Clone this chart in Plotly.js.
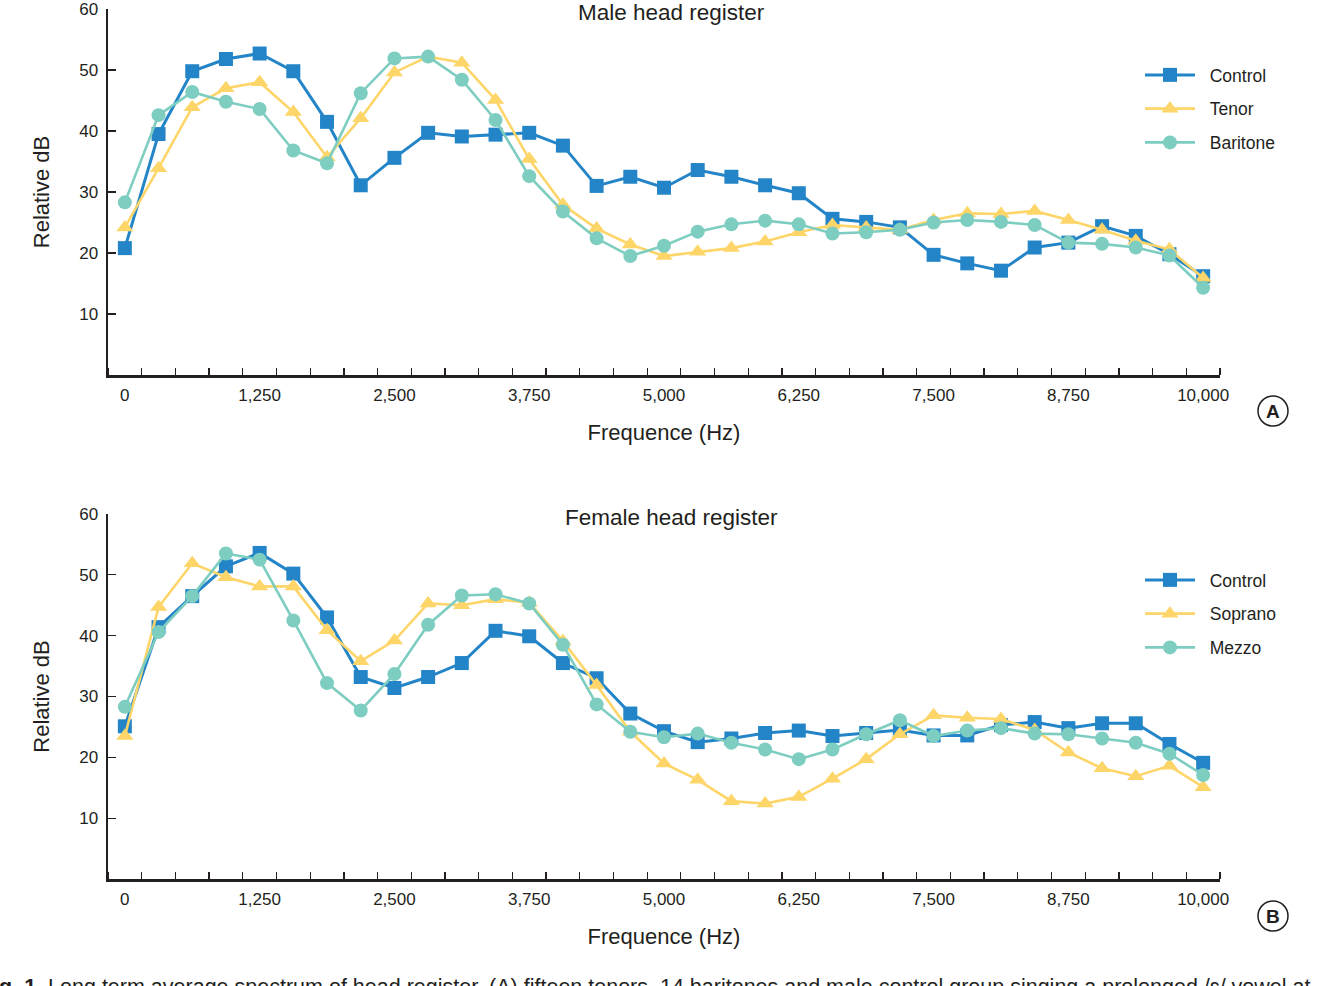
<!DOCTYPE html>
<html>
<head>
<meta charset="utf-8">
<script src="https://cdn.plot.ly/plotly-3.0.1.min.js"></script>
<style>
  html, body { margin: 0; padding: 0; background: #ffffff; }
  #chart { width: 1324px; height: 986px; }
</style>
</head>
<body>
<div id="chart"></div>
<script>
// Frequency bins (Hz) of the long term average spectrum
const freqs = [0, 312.5, 625, 937.5, 1250, 1562.5, 1875, 2187.5, 2500, 2812.5, 3125,
  3437.5, 3750, 4062.5, 4375, 4687.5, 5000, 5312.5, 5625, 5937.5, 6250, 6562.5,
  6875, 7187.5, 7500, 7812.5, 8125, 8437.5, 8750, 9062.5, 9375, 9687.5, 10000];

// Male head register (relative dB)
const maleControl = [20.8, 39.5, 49.8, 51.8, 52.7, 49.8, 41.5, 31.1, 35.6, 39.7, 39.1,
  39.4, 39.7, 37.6, 31.0, 32.5, 30.7, 33.6, 32.5, 31.1, 29.8, 25.6,
  25.1, 24.2, 19.7, 18.3, 17.1, 20.9, 21.7, 24.4, 22.8, 19.8, 16.2];
const tenor = [24.2, 33.9, 43.9, 47.0, 48.0, 43.1, 35.7, 42.1, 49.6, 52.2, 51.2,
  45.1, 35.4, 27.9, 24.0, 21.4, 19.5, 20.2, 20.8, 21.9, 23.4, 24.6,
  24.2, 23.8, 25.4, 26.5, 26.4, 26.9, 25.4, 23.8, 22.0, 20.6, 15.9];
const baritone = [28.3, 42.6, 46.4, 44.8, 43.6, 36.8, 34.7, 46.2, 51.9, 52.2, 48.4,
  41.8, 32.6, 26.8, 22.4, 19.5, 21.2, 23.5, 24.7, 25.3, 24.7, 23.2,
  23.4, 23.8, 25.0, 25.4, 25.1, 24.6, 21.7, 21.5, 20.9, 19.6, 14.3];

// Female head register (relative dB)
const femaleControl = [25.1, 41.4, 46.5, 51.4, 53.6, 50.2, 43.0, 33.2, 31.4, 33.2, 35.5,
  40.8, 39.9, 35.5, 33.0, 27.2, 24.3, 22.5, 23.1, 24.0, 24.4, 23.5,
  24.0, 24.5, 23.6, 23.6, 25.3, 25.8, 24.8, 25.6, 25.6, 22.2, 19.1];
const soprano = [23.5, 44.7, 51.9, 49.6, 48.1, 48.1, 40.9, 35.8, 39.2, 45.3, 45.0,
  46.0, 45.4, 39.1, 31.9, 24.2, 19.0, 16.3, 12.8, 12.4, 13.5, 16.5,
  19.7, 23.8, 26.9, 26.5, 26.3, 24.5, 20.8, 18.2, 16.9, 18.6, 15.1];
const mezzo = [28.3, 40.6, 46.5, 53.5, 52.5, 42.5, 32.2, 27.7, 33.7, 41.8, 46.6,
  46.8, 45.3, 38.5, 28.7, 24.2, 23.3, 23.9, 22.4, 21.3, 19.7, 21.3,
  23.8, 26.1, 23.5, 24.4, 24.8, 23.9, 23.8, 23.1, 22.4, 20.6, 17.1];

// Axis labels
const xTickVals = [0, 1250, 2500, 3750, 5000, 6250, 7500, 8750, 10000];
const xTickText = ['0', '1,250', '2,500', '3,750', '5,000', '6,250', '7,500', '8,750', '10,000'];
const yTickVals = [10, 20, 30, 40, 50, 60];

const FONT = '"Liberation Sans", Arial, Helvetica, sans-serif';
const INK = '#231f20';
const BLUE = '#2385c7';
const YELLOW = '#fdd568';
const TEAL = '#7dcdc0';

// Plot-area geometry in pixels (used to convert to paper coords)
const W = 1324, H = 986;
const M = { l: 108, r: 104, t: 9, b: 107 };
const PW = W - M.l - M.r, PH = H - M.t - M.b;
const px = x => (x - M.l) / PW;
const py = y => (H - M.b - y) / PH;

// a little extra room between each legend symbol and its label
const GAP = '\u00a0\u00a0';

function series(x, y, name, color, symbol, lw, xa, ya, legend, group) {
  return {
    type: 'scatter', mode: 'lines+markers', x: x, y: y, name: GAP + name,
    xaxis: xa, yaxis: ya, legend: legend, legendgroup: group,
    line: { color: color, width: lw },
    marker: { color: color, symbol: symbol, size: symbol === 'triangle-up' ? 15 : 14,
              line: { width: 0 } },
    cliponaxis: false
  };
}

const data = [
  series(freqs, maleControl, 'Control', BLUE, 'square', 3, 'x', 'y', 'legend', 'a1'),
  series(freqs, tenor, 'Tenor', YELLOW, 'triangle-up', 2.6, 'x', 'y', 'legend', 'a2'),
  series(freqs, baritone, 'Baritone', TEAL, 'circle', 2.6, 'x', 'y', 'legend', 'a3'),
  series(freqs, femaleControl, 'Control', BLUE, 'square', 3, 'x2', 'y2', 'legend2', 'b1'),
  series(freqs, soprano, 'Soprano', YELLOW, 'triangle-up', 2.6, 'x2', 'y2', 'legend2', 'b2'),
  series(freqs, mezzo, 'Mezzo', TEAL, 'circle', 2.6, 'x2', 'y2', 'legend2', 'b3')
];

function xAxis(anchor) {
  return {
    anchor: anchor, domain: [0, 1], range: [-156.25, 10156.25],
    showline: true, linecolor: INK, linewidth: 2.5,
    showgrid: false, zeroline: false,
    tickmode: 'array', tickvals: xTickVals, ticktext: xTickText,
    ticks: '', ticklabelstandoff: 3,
    minor: { tick0: 156.25, dtick: 312.5, ticks: 'inside', ticklen: 7, tickwidth: 1.3, tickcolor: INK, showgrid: false },
    tickfont: { family: FONT, size: 17, color: INK },
    title: { text: 'Frequence (Hz)', font: { family: FONT, size: 22, color: INK }, standoff: 21 }
  };
}
function yAxis(anchor, domain) {
  return {
    anchor: anchor, domain: domain, range: [0, 60],
    showline: true, linecolor: INK, linewidth: 2.5,
    showgrid: false, zeroline: false,
    tickmode: 'array', tickvals: yTickVals,
    ticks: 'inside', ticklen: 8, tickwidth: 1.3, tickcolor: INK,
    ticklabeloverflow: 'allow', ticklabelstandoff: 4,
    tickfont: { family: FONT, size: 17, color: INK },
    title: { text: 'Relative dB', font: { family: FONT, size: 22, color: INK }, standoff: 24 }
  };
}

function legendBox(yTop) {
  return {
    x: px(1140), xanchor: 'left', y: py(yTop), yanchor: 'top',
    bgcolor: 'rgba(0,0,0,0)', borderwidth: 0,
    font: { family: FONT, size: 17.5, color: INK },
    traceorder: 'grouped', tracegroupgap: 8, itemwidth: 50
  };
}

function panelTag(letter, cx, cy) {
  return [{
    type: 'circle', xref: 'paper', yref: 'paper',
    xsizemode: 'pixel', ysizemode: 'pixel',
    xanchor: px(cx), yanchor: py(cy),
    x0: -15, x1: 15, y0: -15, y1: 15,
    line: { color: INK, width: 1.5 }, fillcolor: 'rgba(0,0,0,0)'
  }, {
    xref: 'paper', yref: 'paper', x: px(cx), y: py(cy),
    xanchor: 'center', yanchor: 'middle', showarrow: false,
    text: '<b>' + letter + '</b>', font: { family: FONT, size: 19, color: INK }
  }];
}

const tagA = panelTag('A', 1273, 411);
const tagB = panelTag('B', 1273, 916);

const layout = {
  width: W, height: H,
  margin: M,
  paper_bgcolor: '#ffffff', plot_bgcolor: '#ffffff',
  showlegend: true,
  font: { family: FONT, color: INK },
  xaxis: xAxis('y'),
  yaxis: yAxis('x', [py(375), 1]),
  xaxis2: xAxis('y2'),
  yaxis2: yAxis('x2', [0, py(514)]),
  legend: legendBox(57),
  legend2: legendBox(562),
  shapes: [tagA[0], tagB[0]],
  annotations: [
    { xref: 'paper', yref: 'paper', x: px(671), y: py(13), xanchor: 'center', yanchor: 'middle',
      showarrow: false, text: 'Male head register', font: { family: FONT, size: 22.5, color: INK } },
    { xref: 'paper', yref: 'paper', x: px(671), y: py(517), xanchor: 'center', yanchor: 'middle',
      showarrow: false, text: 'Female head register', font: { family: FONT, size: 22.5, color: INK } },
    tagA[1], tagB[1],
    { xref: 'paper', yref: 'paper', x: px(-22), y: py(973), xanchor: 'left', yanchor: 'top',
      showarrow: false,
      text: '<b>Fig. 1.</b> Long term average spectrum of head register. (A) fifteen tenors, 14 baritones and male control group singing a prolonged /ɛ/ vowel at',
      font: { family: FONT, size: 21.5, color: INK } }
  ]
};

Plotly.newPlot('chart', data, layout, { displayModeBar: false, staticPlot: true });
</script>
</body>
</html>
